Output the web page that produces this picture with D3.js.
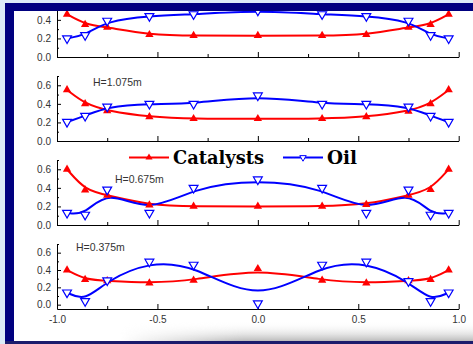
<!DOCTYPE html>
<html>
<head>
<meta charset="utf-8">
<script src="https://cdn.jsdelivr.net/npm/d3@7"></script>
<style>
  body { margin: 0; background: #dcebf7; }
  svg { display: block; }
</style>
</head>
<body>
<script>
// radial positions r/R
const positions = [-0.95, -0.86, -0.75, -0.54, -0.32, 0, 0.32, 0.54, 0.75, 0.86, 0.95]

// values per height (top panel first)
const catalysts1 = [0.46, 0.35, 0.32, 0.24, 0.23, 0.23, 0.23, 0.24, 0.32, 0.35, 0.46]
const oil1       = [0.20, 0.235, 0.39, 0.44, 0.46, 0.50, 0.46, 0.44, 0.39, 0.235, 0.20]
const catalysts2 = [0.55, 0.40, 0.325, 0.26, 0.24, 0.24, 0.24, 0.26, 0.32, 0.40, 0.55]
const oil2       = [0.205, 0.27, 0.37, 0.40, 0.40, 0.49, 0.40, 0.40, 0.37, 0.27, 0.205]
const catalysts3 = [0.60, 0.375, 0.32, 0.215, 0.20, 0.20, 0.20, 0.22, 0.32, 0.38, 0.60]
const oil3       = [0.13, 0.11, 0.38, 0.13, 0.40, 0.49, 0.40, 0.13, 0.38, 0.11, 0.13]
const catalysts4 = [0.40, 0.29, 0.275, 0.25, 0.28, 0.415, 0.28, 0.25, 0.275, 0.29, 0.40]
const oil4       = [0.14, 0.04, 0.28, 0.495, 0.46, 0.015, 0.46, 0.495, 0.27, 0.04, 0.14]

const heightLabels = ["", "H=1.075m", "H=0.675m", "H=0.375m"]
const xMajor = [-1, -0.5, 0, 0.5, 1]
const xMinor = [-0.75, -0.25, 0.25, 0.75]
const yMajor = [0, 0.2, 0.4, 0.6]
const yMinor = [0.1, 0.3, 0.5, 0.7]
const legendNames = ["Catalysts", "Oil"]

const width = 473
const height = 344

const svg = d3.select("body").append("svg")
    .attr("width", width)
    .attr("height", height)

// background
svg.append("rect").attr("width", width).attr("height", height).attr("fill", "#dcebf7")
svg.append("rect").attr("x", 14).attr("y", 11).attr("width", width - 14).attr("height", 330).attr("fill", "white")

svg.append("clipPath").attr("id", "clip")
  .append("rect").attr("x", 14).attr("y", 11).attr("width", width - 14).attr("height", 330)

const chart = svg.append("g").attr("clip-path", "url(#clip)")

const x = d3.scaleLinear().domain([-1, 1]).range([57, 458.7])

const panels = [
    { bottom: 57,  domain: [0, 0.7],     cat: catalysts1, oil: oil1, label: heightLabels[0] },
    { bottom: 141, domain: [0, 0.7],     cat: catalysts2, oil: oil2, label: heightLabels[1] },
    { bottom: 225, domain: [0, 0.7],     cat: catalysts3, oil: oil3, label: heightLabels[2] },
    { bottom: 309, domain: [-0.05, 0.7], cat: catalysts4, oil: oil4, label: heightLabels[3] }
]
const labelPos = [[0, 0], [93, 85.5], [115, 182.5], [76, 251]]

const fmt = (d) => d.toFixed(1)
const triUp = d3.symbol().type(d3.symbolTriangle).size(30)
const triDown = d3.symbol().type(d3.symbolTriangle).size(34)

panels.forEach((p, i) => {
    const y = d3.scaleLinear().domain(p.domain).range([p.bottom, p.bottom - 65])
    const g = chart.append("g")
    // only ticks that are visible below the frame
    const visible = (t) => y(t) > 12

    //Achsen
    g.append("g").attr("transform", "translate(0," + p.bottom + ")")
        .call(d3.axisBottom(x).tickValues(xMajor).tickSizeInner(-5).tickSizeOuter(0)
            .tickPadding(7).tickFormat(i === 3 ? fmt : ""))
    g.append("g").attr("transform", "translate(0," + p.bottom + ")")
        .call(d3.axisBottom(x).tickValues(xMinor).tickSizeInner(-3).tickSizeOuter(0).tickFormat(""))
        .select(".domain").remove()

    g.append("g").attr("transform", "translate(57,0)")
        .call(d3.axisLeft(y).tickValues(yMajor.filter(visible)).tickSizeInner(-4).tickSizeOuter(0)
            .tickPadding(6).tickFormat(fmt))
    g.append("g").attr("transform", "translate(57,0)")
        .call(d3.axisLeft(y).tickValues(yMinor.filter(visible)).tickSizeInner(-2).tickSizeOuter(0).tickFormat(""))
        .select(".domain").remove()

    g.selectAll(".tick text")
        .style("font-family", "Arial, 'Liberation Sans', sans-serif")
        .style("font-size", "10px")
        .attr("fill", "#333")

    //Linien
    const line = d3.line()
        .x((d, j) => x(positions[j]))
        .y((d) => y(d))
        .curve(d3.curveBasis)

    g.append("path").datum(p.cat)
        .attr("d", line).attr("fill", "none").attr("stroke", "#ff0000").attr("stroke-width", 2)
    g.append("path").datum(p.oil)
        .attr("d", line).attr("fill", "none").attr("stroke", "#0000ff").attr("stroke-width", 2)

    g.selectAll(".cat").data(p.cat).enter().append("path")
        .attr("d", triUp)
        .attr("transform", (d, j) => "translate(" + x(positions[j]) + "," + y(d) + ")")
        .attr("fill", "#ff0000")

    g.selectAll(".oil").data(p.oil).enter().append("path")
        .attr("d", triDown)
        .attr("transform", (d, j) => "translate(" + x(positions[j]) + "," + y(d) + ") rotate(180)")
        .attr("fill", "white").attr("stroke", "#0000ff").attr("stroke-width", 1.2)

    if (p.label) {
        g.append("text")
            .attr("x", labelPos[i][0]).attr("y", labelPos[i][1])
            .style("font-family", "Arial, 'Liberation Sans', sans-serif")
            .style("font-size", "10.5px")
            .attr("fill", "#333")
            .text(p.label)
    }
})

//Legende
const legend = chart.append("g")
const legendItems = [
    { name: legendNames[0], color: "#ff0000", x0: 129, x1: 169, tx: 173, tw: 91, up: true },
    { name: legendNames[1], color: "#0000ff", x0: 283, x1: 323, tx: 327, tw: 30, up: false }
]
legendItems.forEach((d) => {
    legend.append("line")
        .attr("x1", d.x0).attr("x2", d.x1).attr("y1", 157.5).attr("y2", 157.5)
        .attr("stroke", d.color).attr("stroke-width", 2)
    legend.append("path")
        .attr("d", d3.symbol().type(d3.symbolTriangle).size(d.up ? 22 : 18))
        .attr("transform", "translate(" + (d.x0 + d.x1) / 2 + ",157.5)" + (d.up ? "" : " rotate(180)"))
        .attr("fill", d.up ? d.color : "white")
        .attr("stroke", d.up ? "none" : d.color)
    legend.append("text")
        .attr("x", d.tx).attr("y", 164)
        .attr("textLength", d.tw).attr("lengthAdjust", "spacingAndGlyphs")
        .style("font-family", "'DejaVu Serif', 'Liberation Serif', serif")
        .style("font-weight", "bold")
        .style("font-size", "19px")
        .attr("fill", "black")
        .text(d.name)
})

//Rahmen
const defs = svg.append("defs")
const grad = defs.append("linearGradient").attr("id", "shade").attr("x1", 0).attr("x2", 0).attr("y1", 0).attr("y2", 1)
grad.append("stop").attr("offset", "0%").attr("stop-color", "#ffffff").attr("stop-opacity", 0)
grad.append("stop").attr("offset", "100%").attr("stop-color", "#b8b8b8").attr("stop-opacity", 1)
const fade = defs.append("linearGradient").attr("id", "fade")
fade.append("stop").attr("offset", "0%").attr("stop-color", "black")
fade.append("stop").attr("offset", "35%").attr("stop-color", "white")
fade.append("stop").attr("offset", "100%").attr("stop-color", "white")
defs.append("mask").attr("id", "fadeMask")
  .append("rect").attr("x", 120).attr("y", 322).attr("width", width - 120).attr("height", 20).attr("fill", "url(#fade)")

svg.append("rect").attr("x", 120).attr("y", 322).attr("width", width - 120).attr("height", 19.5)
    .attr("fill", "url(#shade)").attr("mask", "url(#fadeMask)")

svg.append("rect").attr("x", 5).attr("y", 3).attr("width", width - 5).attr("height", 8).attr("fill", "#00007f")
svg.append("rect").attr("x", 5).attr("y", 3).attr("width", 9).attr("height", height - 3).attr("fill", "#00007f")
svg.append("rect").attr("x", 5).attr("y", 341).attr("width", width - 5).attr("height", 3).attr("fill", "#1c1c6c")
</script>
</body>
</html>
